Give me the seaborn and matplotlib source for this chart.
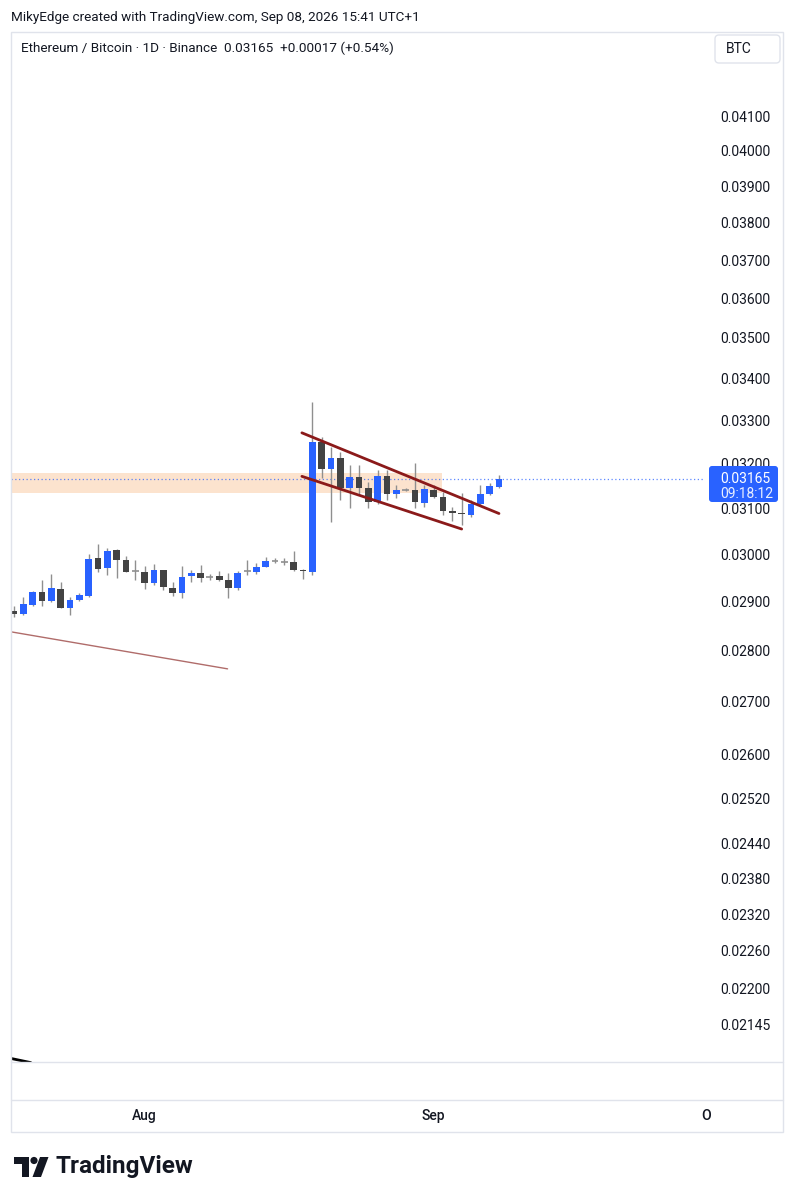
import numpy as np
import pandas as pd
import matplotlib
matplotlib.use("Agg")
import matplotlib.pyplot as plt
import seaborn as sns
from matplotlib.patches import Rectangle, FancyBboxPatch, Polygon, Circle
from matplotlib.ticker import FixedLocator, NullLocator, NullFormatter, FixedFormatter

# ---------------- data ----------------
start_date = "2026-07-18"
opens = [0.02881, 0.02875, 0.02893, 0.02920, 0.02901, 0.02926, 0.02887, 0.02903, 0.02912, 0.02992,
         0.02971, 0.03009, 0.02987, 0.02964, 0.02962, 0.02939, 0.02966, 0.02928, 0.02918, 0.02954,
         0.02960, 0.02951, 0.02954, 0.02945, 0.02928, 0.02963, 0.02962, 0.02973, 0.02985, 0.02984,
         0.02983, 0.02967, 0.02962, 0.03250, 0.03188, 0.03213, 0.03145, 0.03170, 0.03145, 0.03113,
         0.03172, 0.03131, 0.03141, 0.03140, 0.03111, 0.03140, 0.03125, 0.03093, 0.03090, 0.03085,
         0.03109, 0.03131, 0.03147]
highs = [0.02891, 0.02909, 0.02921, 0.02945, 0.02958, 0.02941, 0.02909, 0.02918, 0.03000, 0.03022,
         0.03013, 0.03010, 0.02996, 0.02987, 0.02975, 0.02979, 0.02967, 0.02941, 0.02975, 0.02966,
         0.02977, 0.02958, 0.02964, 0.02960, 0.02964, 0.02987, 0.02981, 0.02994, 0.02992, 0.02992,
         0.03007, 0.02968, 0.03344, 0.03261, 0.03238, 0.03227, 0.03197, 0.03197, 0.03158, 0.03185,
         0.03185, 0.03152, 0.03145, 0.03201, 0.03152, 0.03152, 0.03136, 0.03102, 0.03134, 0.03118,
         0.03152, 0.03156, 0.03174]
lows = [0.02869, 0.02873, 0.02891, 0.02891, 0.02899, 0.02886, 0.02873, 0.02901, 0.02910, 0.02962,
        0.02956, 0.02949, 0.02961, 0.02945, 0.02926, 0.02935, 0.02924, 0.02912, 0.02907, 0.02941,
        0.02941, 0.02945, 0.02943, 0.02907, 0.02924, 0.02956, 0.02958, 0.02972, 0.02981, 0.02977,
        0.02964, 0.02947, 0.02956, 0.03167, 0.03070, 0.03118, 0.03100, 0.03129, 0.03100, 0.03110,
        0.03118, 0.03122, 0.03138, 0.03100, 0.03102, 0.03122, 0.03085, 0.03072, 0.03063, 0.03080,
        0.03107, 0.03129, 0.03145]
closes = [0.02874, 0.02895, 0.02920, 0.02901, 0.02928, 0.02887, 0.02903, 0.02914, 0.02989, 0.02968,
          0.03007, 0.02987, 0.02962, 0.02964, 0.02939, 0.02966, 0.02931, 0.02918, 0.02952, 0.02960,
          0.02949, 0.02951, 0.02945, 0.02928, 0.02960, 0.02963, 0.02973, 0.02985, 0.02985, 0.02984,
          0.02966, 0.02964, 0.03250, 0.03188, 0.03213, 0.03145, 0.03170, 0.03145, 0.03113, 0.03172,
          0.03131, 0.03140, 0.03141, 0.03113, 0.03143, 0.03125, 0.03093, 0.03089, 0.03088, 0.03109,
          0.03131, 0.03149, 0.03165]

price_ticks = [0.04100, 0.04000, 0.03900, 0.03800, 0.03700, 0.03600, 0.03500, 0.03400, 0.03300,
               0.03200, 0.03100, 0.03000, 0.02900, 0.02800, 0.02700, 0.02600, 0.02520, 0.02440,
               0.02380, 0.02320, 0.02260, 0.02200, 0.02145]
month_dates = ["2026-08-01", "2026-09-01"]
month_labels = ["Aug", "Sep"]

# drawings (bar index, price)
zone_low, zone_high = 0.03134, 0.03179
zone_end = 45.9
chan_upper_x, chan_upper_y = [30.87, 52.0], [0.03271, 0.03088]
chan_lower_x, chan_lower_y = [30.87, 48.0], [0.03171, 0.03054]
trend_x, trend_y = [-0.32, 22.9], [0.02838, 0.02764]
black_x, black_y = [-0.6, 1.8], [0.02094, 0.02087]

last_close = closes[-1]
header = "Ethereum / Bitcoin · 1D · Binance  0.03165  +0.00017 (+0.54%)"
credit = "MikyEdge created with TradingView.com, Sep 08, 2026 15:41 UTC+1"
countdown = "09:18:12"

dates = pd.date_range(start_date, periods=len(closes), freq="D")
df = pd.DataFrame({"date": dates, "open": opens, "high": highs, "low": lows, "close": closes})
df["idx"] = np.arange(len(df))

# ---------------- style ----------------
sns.set_theme(style="white")
plt.rcParams["font.family"] = ["Roboto", "DejaVu Sans"]
TXT = "#131722"
BLUE = "#2962FF"
DARK = "#434343"
WICK = "#8f8f8f"

W, H = 796, 1200
fig = plt.figure(figsize=(W / 100, H / 100), dpi=100)
fig.patch.set_facecolor("white")

left_px, right_px, top_px, bot_px = 11, 705, 32, 1062
ax = fig.add_axes([left_px / W, 1 - bot_px / H, (right_px - left_px) / W, (bot_px - top_px) / H])
ax.set_facecolor("white")
ax.set_yscale("log")
ax.set_ylim(0.020879, 0.04354)
ax.set_xlim(-0.32, 74.09)
for s in ax.spines.values():
    s.set_visible(False)
ax.grid(False)

# zone
ax.fill_between([-0.32, zone_end], zone_low, zone_high, color="#FCE3CE", lw=0, zorder=1)
# last price dotted line
ax.axhline(last_close, color=BLUE, lw=0.9, ls=(0, (1, 2)), alpha=0.75, zorder=1.5)

# candles
bw = 0.72
for _, r in df.iterrows():
    i = r["idx"]
    ax.vlines(i, r["low"], r["high"], color=WICK, lw=1, zorder=2)
    if r["close"] == r["open"]:
        ax.hlines(r["close"], i - bw / 2, i + bw / 2, color=WICK, lw=1.2, zorder=3)
        continue
    up = r["close"] > r["open"]
    lo, hi = min(r["open"], r["close"]), max(r["open"], r["close"])
    ax.bar(i, hi - lo, bottom=lo, width=bw, color=BLUE if up else DARK, lw=0, zorder=3)

# drawings with seaborn
sns.lineplot(x=chan_upper_x, y=chan_upper_y, ax=ax, color="#8B1A1A", lw=2, zorder=4)
sns.lineplot(x=chan_lower_x, y=chan_lower_y, ax=ax, color="#8B1A1A", lw=2, zorder=4)
sns.lineplot(x=trend_x, y=trend_y, ax=ax, color="#B06C6A", lw=1, zorder=4)
sns.lineplot(x=black_x, y=black_y, ax=ax, color="black", lw=2, zorder=4)
ax.set_xlabel("")
ax.set_ylabel("")

# axes ticks
ax.yaxis.tick_right()
ax.yaxis.set_major_locator(FixedLocator(price_ticks))
ax.yaxis.set_major_formatter(FixedFormatter([f"{t:.5f}" for t in price_ticks]))
ax.yaxis.set_minor_locator(NullLocator())
ax.yaxis.set_minor_formatter(NullFormatter())
ax.tick_params(axis="y", length=0, pad=11, labelsize=10, labelcolor=TXT)
month_idx = [(pd.Timestamp(d) - pd.Timestamp(start_date)).days for d in month_dates]
ax.set_xticks(month_idx)
ax.set_xticklabels(month_labels)
ax.tick_params(axis="x", length=0, pad=34, labelsize=10, labelcolor=TXT)
for lab in ax.get_xticklabels():
    lab.set_fontweight("medium")

# ---------------- overlay (pixel coords) ----------------
ov = fig.add_axes([0, 0, 1, 1], zorder=5)
ov.set_xlim(0, W)
ov.set_ylim(H, 0)
ov.axis("off")
ov.patch.set_alpha(0)

fc = "#E0E3EB"
ov.add_patch(Rectangle((11, 32), 772, 1100, fill=False, ec=fc, lw=1))
ov.plot([11, 783], [1062, 1062], color=fc, lw=1)
ov.plot([11, 783], [1100, 1100], color=fc, lw=1)

ov.text(11, 17, credit, fontsize=9.7, color=TXT, va="center", ha="left")
ov.text(21, 48, header, fontsize=9.7, color=TXT, va="center", ha="left")
ov.add_patch(FancyBboxPatch((715, 35), 65, 28, boxstyle="round,pad=0,rounding_size=4",
                            fc="white", ec=fc, lw=1))
ov.text(726, 49, "BTC", fontsize=10, color=TXT, va="center", ha="left")
ov.text(706, 1116, "O", fontsize=10, color=TXT, va="center", ha="center", fontweight="medium")

# last price label
fig.canvas.draw()
y_disp = ax.transData.transform((0, last_close))[1]
yp = H - y_disp
ov.add_patch(FancyBboxPatch((709, yp - 13), 69, 36, boxstyle="round,pad=0,rounding_size=3",
                            fc=BLUE, ec="none"))
ov.text(720, yp, f"{last_close:.5f}", fontsize=10, color="white", va="center", ha="left")
ov.text(720, yp + 15, countdown, fontsize=10, color="#E8EEFF", va="center", ha="left")

# TradingView logo
ov.add_patch(Polygon([(14, 1157), (29, 1157), (29, 1177), (22, 1177), (22, 1164), (14, 1164)],
                     closed=True, fc="#131722", ec="none"))
ov.add_patch(Circle((34, 1160.5), 3.6, fc="#131722", ec="none"))
ov.add_patch(Polygon([(40, 1157), (48.5, 1157), (41, 1177), (32.5, 1177)], closed=True,
                     fc="#131722", ec="none"))
ov.text(55, 1167, "TradingView", fontsize=17.5, fontweight="bold", color="#131722",
        va="center", ha="left")

fig.savefig("out.png", dpi=100, facecolor="white")
